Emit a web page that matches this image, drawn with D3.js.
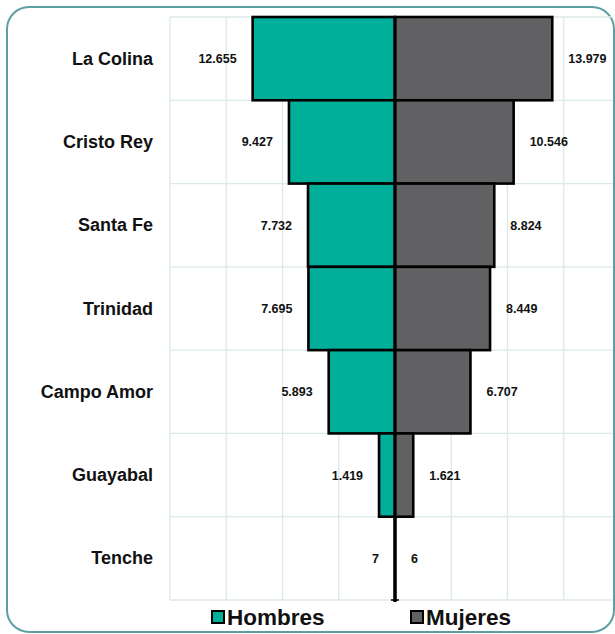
<!DOCTYPE html>
<html><head><meta charset="utf-8">
<script src="https://cdn.jsdelivr.net/npm/d3@7"></script>
<style>html,body{margin:0;padding:0;background:#fff;overflow:hidden}</style>
</head><body>
<svg id="c" width="615" height="634"></svg>
<script>
const categories = ["La Colina","Cristo Rey","Santa Fe","Trinidad","Campo Amor","Guayabal","Tenche"];
const hombres = [12655, 9427, 7732, 7695, 5893, 1419, 7];
const mujeres = [13979, 10546, 8824, 8449, 6707, 1621, 6];
const gridTicks = [-20000,-15000,-10000,-5000,0,5000,10000,15000,20000];
const seriesNames = ["Hombres","Mujeres"];
const colors = ["#00AE9A","#616163"];

(function(){
const fmt = v => v.toLocaleString("de-DE");
const svg = d3.select("#c");
const font = "'Liberation Sans', Arial, sans-serif";

svg.append("rect").attr("x",7).attr("y",7).attr("width",607).attr("height",625)
  .attr("rx",22).attr("fill","#fff").attr("stroke","#5E9FA2").attr("stroke-width",2);

const pLeft = 170, pTop = 17, pBottom = 600;
const x = d3.scaleLinear().domain([-20000,20000]).range([pLeft, 620]);
const y = d3.scaleBand().domain(categories).range([pTop,pBottom]).padding(0);

const g = svg.append("g");
const gridColor = "#DCE9E9";
g.selectAll(".vg").data(gridTicks).join("line")
  .attr("x1",d=>x(d)).attr("x2",d=>x(d)).attr("y1",pTop).attr("y2",pBottom)
  .attr("stroke",gridColor).attr("stroke-width",1.3);
const hb = categories.map(c=>y(c)).concat([pBottom]);
g.selectAll(".hg").data(hb).join("line")
  .attr("x1",pLeft).attr("x2",613).attr("y1",d=>d).attr("y2",d=>d)
  .attr("stroke",gridColor).attr("stroke-width",1.3);

const bw = 2.6;
g.selectAll(".bh").data(categories).join("rect")
  .attr("x",(d,i)=>x(-hombres[i])).attr("y",d=>y(d))
  .attr("width",(d,i)=>x(0)-x(-hombres[i])).attr("height",y.bandwidth())
  .attr("fill",colors[0]).attr("stroke","#000").attr("stroke-width",bw);
g.selectAll(".bm").data(categories).join("rect")
  .attr("x",x(0)).attr("y",d=>y(d))
  .attr("width",(d,i)=>x(mujeres[i])-x(0)).attr("height",y.bandwidth())
  .attr("fill",colors[1]).attr("stroke","#000").attr("stroke-width",bw);

g.append("line").attr("x1",x(0)).attr("x2",x(0)).attr("y1",pTop).attr("y2",pBottom+2)
  .attr("stroke","#000").attr("stroke-width",3);
g.append("line").attr("x1",x(0)-4).attr("x2",x(0)+4).attr("y1",pBottom).attr("y2",pBottom)
  .attr("stroke","#000").attr("stroke-width",1.5);

g.selectAll(".lh").data(categories).join("text")
  .attr("x",(d,i)=>x(-hombres[i])-16).attr("y",d=>y(d)+y.bandwidth()/2+4.5)
  .attr("text-anchor","end").attr("font-family",font).attr("font-weight","bold")
  .attr("font-size",12.5).attr("fill","#111").text((d,i)=>fmt(hombres[i]));
g.selectAll(".lm").data(categories).join("text")
  .attr("x",(d,i)=>x(mujeres[i])+16).attr("y",d=>y(d)+y.bandwidth()/2+4.5)
  .attr("text-anchor","start").attr("font-family",font).attr("font-weight","bold")
  .attr("font-size",12.5).attr("fill","#111").text((d,i)=>fmt(mujeres[i]));

g.selectAll(".cl").data(categories).join("text")
  .attr("x",153).attr("y",d=>y(d)+y.bandwidth()/2+6)
  .attr("text-anchor","end").attr("font-family",font).attr("font-weight","bold")
  .attr("font-size",18).attr("fill","#111").text(d=>d);

const lx = [212, 411];
seriesNames.forEach((s,i)=>{
  svg.append("rect").attr("x",lx[i]).attr("y",611).attr("width",12).attr("height",12)
    .attr("fill",colors[i]).attr("stroke","#000").attr("stroke-width",2);
  svg.append("text").attr("x",lx[i]+15).attr("y",625).attr("font-family",font)
    .attr("font-weight","bold").attr("font-size",22.5).attr("fill","#111").text(s);
});
})();
</script>
</body></html>
